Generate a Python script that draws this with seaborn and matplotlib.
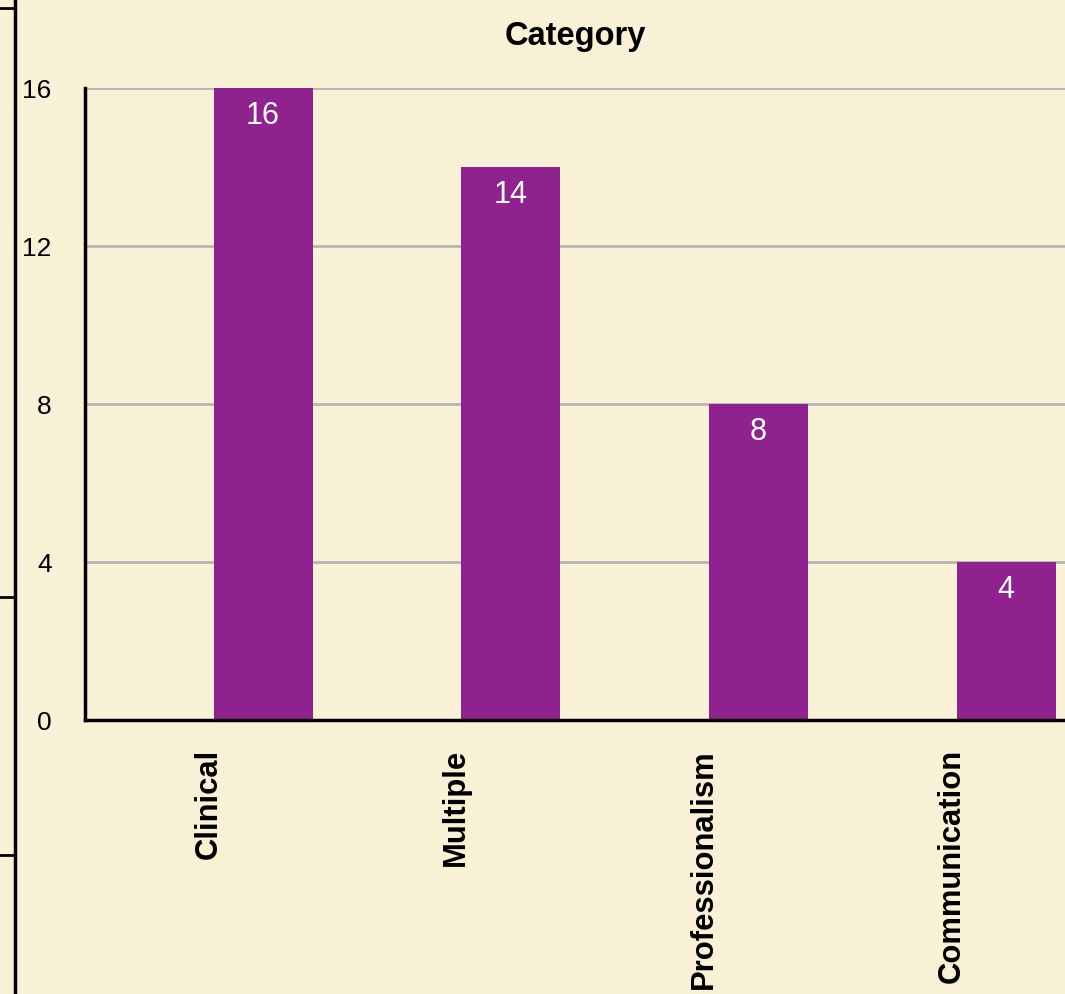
import numpy as np
import pandas as pd
import matplotlib.pyplot as plt
import seaborn as sns
from matplotlib.lines import Line2D

# ── DATA ──────────────────────────────────────────────────────────────────────
categories = ["Clinical", "Multiple", "Professionalism", "Communication"]
counts = [16, 14, 8, 4]
y_ticks = [0, 4, 8, 12, 16]

# ── STYLE ─────────────────────────────────────────────────────────────────────
BG = "#f9f1d6"
BAR = "#8f228f"
GRID = "#b5b5b5"

sns.set_theme(style="white")
plt.rcParams["font.family"] = ["Liberation Sans", "DejaVu Sans"]
plt.rcParams["text.color"] = "black"
plt.rcParams["xtick.color"] = "black"
plt.rcParams["ytick.color"] = "black"

df = pd.DataFrame({"category": categories, "count": counts})

fig = plt.figure(figsize=(10.65, 9.94), dpi=100, facecolor=BG)
ax = fig.add_axes([85 / 1065, 274 / 994, 980 / 1065, 632 / 994])
ax.set_facecolor(BG)

sns.barplot(data=df, x="category", y="count", color=BAR, width=0.4,
            saturation=1, linewidth=0, ax=ax, zorder=3)

# value labels inside the top of each bar
for cont in ax.containers:
    ax.bar_label(cont, labels=[str(v) for v in counts], label_type="edge",
                 padding=-31, color="white", fontsize=22)

ax.set_ylim(0, 16)
ax.set_xlim(-0.719, 3.238)
ax.set_yticks(y_ticks)
ax.set_yticklabels([str(t) for t in y_ticks], fontsize=19)
ax.yaxis.grid(True, color=GRID, linewidth=2, zorder=0)
ax.set_axisbelow(True)

# category labels sit left of the bars, like the original layout
ax.set_xticks(np.arange(len(categories)) - 0.22)
ax.set_xticklabels(categories, rotation=90, fontsize=22.3, fontweight="bold",
                   va="top", ha="center")
ax.tick_params(axis="x", length=0, pad=21)
ax.tick_params(axis="y", length=0, pad=24)

ax.set_xlabel("")
ax.set_ylabel("")
ax.set_title("Category", fontsize=23.5, fontweight="bold", pad=31)

for side in ["top", "right"]:
    ax.spines[side].set_visible(False)
for side in ["left", "bottom"]:
    ax.spines[side].set_color("black")
    ax.spines[side].set_linewidth(2.5)
    ax.spines[side].set_zorder(5)

# neighbouring chart edge, cut off at the left of the screenshot
lx = 15 / 1065
fig.add_artist(Line2D([lx, lx], [0, 1], color="black", linewidth=2.5))
for yy in [8, 597, 855]:
    fy = 1 - yy / 994
    fig.add_artist(Line2D([0, lx], [fy, fy], color="black", linewidth=2))

fig.savefig("out.png", dpi=100, facecolor=BG)
